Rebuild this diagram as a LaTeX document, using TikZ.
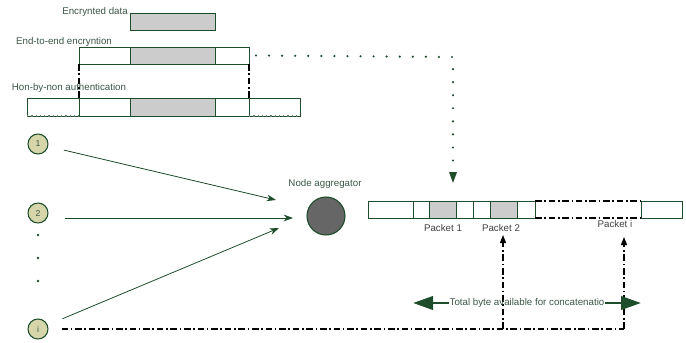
\documentclass[tikz,border=0pt]{standalone}
\usepackage{fontspec}
\setmainfont{Liberation Sans}
\usetikzlibrary{arrows.meta,calc}
\definecolor{dg}{HTML}{1E4D2B}
\definecolor{lg}{HTML}{CCCCCC}
\definecolor{kh}{HTML}{D6D6AA}
\definecolor{tc}{HTML}{3A5646}
\definecolor{ag}{HTML}{666666}
\newcommand\segbox[6]{\node[seg,fill=#6,minimum width={(#3-#2)*0.75pt},minimum height={(#5-#4)*0.75pt}] (#1) at (#2,#4) {};}
\begin{document}
\begin{tikzpicture}[x=0.75pt,y=-0.75pt,
  font=\fontsize{7.3}{8.5}\selectfont,
  seg/.style={draw=dg, line width=0.7pt, inner sep=0pt, outer sep=0pt, anchor=north west},
  lbl/.style={text=tc, inner sep=0pt},
  plbl/.style={text=black!75, inner sep=0pt},
  src/.style={circle, draw=dg, line width=0.8pt, fill=kh, minimum size={20*0.75pt}, inner sep=0pt, text=tc, font=\fontsize{6.5}{7}\selectfont},
  feed/.style={draw=dg, line width=0.6pt, -{Stealth[length=7pt,width=5pt]}},
  dd/.style={draw=black, line width=1pt, dash pattern=on 5pt off 2pt on 1.2pt off 2pt},
  ddarrow/.style={dd, -{Triangle[length=6pt,width=4.5pt]}},
  dots/.style={draw=dg, line width=1.8pt, line cap=round, dash pattern=on 0pt off 9.8pt},
  big/.style={draw=dg, line width=2.2pt, -{Triangle[length=15pt,width=10pt]}}
]
\useasboundingbox (0,0) rectangle (686,343);

% Encrypted data
\segbox{ed}{130}{215}{13}{30}{lg}
\node[lbl] (edl) at (95,12) {Encrynted data};

% End-to-end row
\segbox{ea}{79}{130}{47}{64}{white}
\segbox{eb}{130}{215}{47}{64}{lg}
\segbox{ec}{215}{249}{47}{64}{white}
\node[lbl] (eel) at (64,42) {End-to-end encryntion};

% Hop-by-hop row
\segbox{ha}{27}{79}{98}{116}{white}
\segbox{hb}{79}{130}{98}{116}{white}
\segbox{hc}{130}{215}{98}{116}{lg}
\segbox{hd}{215}{249}{98}{116}{white}
\segbox{he}{249}{300}{98}{116}{white}
\node[lbl] (hhl) at (69,88) {Hon-by-non authentication};
\draw[draw=dg!70, line width=1pt, dash pattern=on 1pt off 2.2pt] (ha.south west) -- (ha.south east);
\draw[draw=dg!70, line width=1pt, dash pattern=on 1pt off 2.2pt] (he.south west) -- (he.south east);

% dash-dot verticals between rows
\draw[dd] (ea.south west) -- (hb.north west);
\draw[dd] (ec.south east) -- (he.north west);

% Source nodes
\node[src] (n1) at (38,144) {1};
\node[src] (n2) at (38,213) {2};
\node[src] (ni) at (38,329) {i};
\fill[dg] (38,235) circle (1.3) (38,258) circle (1.3) (38,281) circle (1.3);

% Aggregator
\node[circle, draw=dg, line width=0.8pt, fill=ag, minimum size={38*0.75pt}, inner sep=0pt] (agg) at (326,216) {};
\node[lbl] (aggl) at (325,184) {Node aggregator};
\coordinate (t1) at (276,200);
\coordinate (t2) at (293,218);
\coordinate (ti) at (279,228);
\draw[feed, shorten <=12pt] (n1) -- (t1);
\draw[feed, shorten <=12pt] (n2.east |- t2) -- (t2);
\draw[feed, shorten <=12pt] (ni) -- (ti);

% Packet row
\segbox{p0}{368}{413}{201}{218}{white}
\segbox{p1}{413}{429}{201}{218}{white}
\segbox{p2}{429}{456}{201}{218}{lg}
\segbox{p3}{456}{473}{201}{218}{white}
\segbox{p4}{473}{490}{201}{218}{white}
\segbox{p5}{490}{517}{201}{218}{lg}
\segbox{p6}{517}{535}{201}{218}{white}
\node[inner sep=0pt, outer sep=0pt, anchor=north west, minimum width={106*0.75pt}, minimum height={17*0.75pt}] (pv) at (535,201) {};
\draw[dd, line width=1.2pt] (pv.north west) -- (pv.north east) (pv.south west) -- (pv.south east);
\segbox{p7}{641}{682}{201}{218}{white}
\node[plbl] (pk1) at (443,228) {Packet 1};
\node[plbl] (pk2) at (501,228) {Packet 2};
\node[plbl] (pki) at (615,224) {Packet i};

% dotted connector from end-to-end row to packet row
\coordinate (dc) at (453,57);
\coordinate (dt) at (453,183);
\draw[dots] (ec.east) ++(7,0) -- (dc) -- ($(dt)+(0,-8)$);
\fill[dg] ($(dt)+(-4,-11)$) -- ($(dt)+(4,-11)$) -- (dt) -- cycle;

% bottom dash-dot lines
\coordinate (b2) at (503,329);
\coordinate (bi) at (624,329);
\coordinate (a2) at (503,235);
\coordinate (ai) at (624,237);
\draw[dd] (ni.east) ++(13,0) -- (bi);
\draw[ddarrow] (b2) -- (a2);
\draw[ddarrow] (bi) -- (ai);

% total byte arrow
\node[lbl] (tot) at (527,303) {Total byte available for concatenatio};
\coordinate (tl) at (413,303);
\coordinate (tr) at (641,303);
\draw[big] (tot.west) -- (tl);
\draw[big] (tot.east) -- (tr);
\end{tikzpicture}
\end{document}
